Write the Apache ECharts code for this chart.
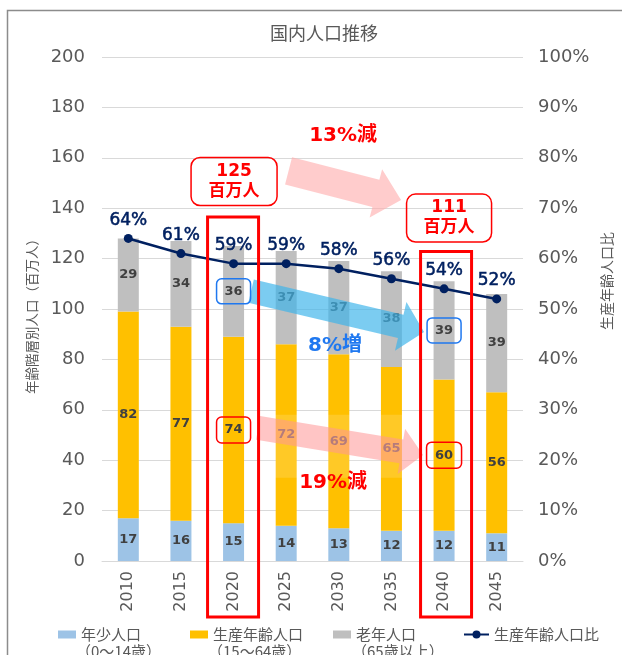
<!DOCTYPE html>
<html>
<head>
<meta charset="utf-8">
<script src="https://cdn.jsdelivr.net/npm/echarts@6/dist/echarts.min.js"></script>
<style>
  html, body { margin: 0; padding: 0; background: #fff; }
  #chart { width: 622px; height: 655px; }
</style>
</head>
<body>
<div id="chart"></div>
<script>
// 国内人口推移: age-group population (millions) and working-age share
const years = ['2010', '2015', '2020', '2025', '2030', '2035', '2040', '2045'];
const youthPop = [17, 16, 15, 14, 13, 12, 12, 11];        // 0-14
const workingPop = [82, 77, 74, 72, 69, 65, 60, 56];      // 15-64
const elderlyPop = [29, 34, 36, 37, 37, 38, 39, 39];      // 65+
const workingRatio = [64, 61, 59, 59, 58, 56, 54, 52];    // %
const seriesNames = ['年少人口', '生産年齢人口', '老年人口', '生産年齢人口比'];
const legendSubLabels = ['（0～14歳）', '（15～64歳）', '（65歳以上）'];
const totalLabels = ['125\n百万人', '111\n百万人'];
const changeLabels = ['13%減', '8%増', '19%減'];

const NUM = "'DejaVu Sans', 'Noto Sans CJK JP', sans-serif";
const JP = "'Noto Sans CJK JP', sans-serif";
const GREY = '#595959';
const RED = '#ff0000';
const BLUE = '#1f78f0';

const chart = echarts.init(document.getElementById('chart'), null, { renderer: 'canvas' });

const segLabel = {
  show: true, position: 'inside', color: '#404040',
  fontFamily: NUM, fontWeight: 'bold', fontSize: 13
};

const legendBase = {
  top: 622, itemHeight: 8, itemWidth: 18, icon: 'rect',
  textStyle: { fontFamily: JP, fontSize: 15, color: GREY }
};

chart.setOption({
  animation: false,
  backgroundColor: '#fff',
  title: {
    text: '国内人口推移', left: 265, top: 19,
    textStyle: { fontFamily: JP, fontSize: 18, fontWeight: 'normal', color: GREY }
  },
  grid: { left: 102, right: 99, top: 57, bottom: 94 },
  legend: [
    Object.assign({}, legendBase, { left: 53, data: [seriesNames[0]] }),
    Object.assign({}, legendBase, { left: 185, data: [seriesNames[1]] }),
    Object.assign({}, legendBase, { left: 328, data: [seriesNames[2]] }),
    Object.assign({}, legendBase, { left: 458, icon: null, itemWidth: 25, itemHeight: 10, data: [seriesNames[3]] })
  ],
  xAxis: {
    type: 'category', data: years,
    axisLine: { lineStyle: { color: '#d9d9d9' } },
    axisTick: { show: false },
    axisLabel: { rotate: 90, margin: 10, color: GREY, fontFamily: NUM, fontSize: 16 }
  },
  yAxis: [
    {
      type: 'value', min: 0, max: 200, interval: 20,
      axisLine: { show: false }, axisTick: { show: false },
      axisLabel: { margin: 17, color: GREY, fontFamily: NUM, fontSize: 18 },
      splitLine: { lineStyle: { color: '#d9d9d9' } }
    },
    {
      type: 'value', min: 0, max: 100, interval: 10,
      axisLine: { show: false }, axisTick: { show: false },
      axisLabel: { margin: 15, color: GREY, fontFamily: NUM, fontSize: 18, formatter: '{value}%' },
      splitLine: { show: false }
    }
  ],
  series: [
    { name: seriesNames[0], type: 'bar', stack: 'pop', barWidth: 21, data: youthPop,
      itemStyle: { color: '#9dc3e6' }, label: segLabel },
    { name: seriesNames[1], type: 'bar', stack: 'pop', barWidth: 21, data: workingPop,
      itemStyle: { color: '#ffc000' }, label: segLabel },
    { name: seriesNames[2], type: 'bar', stack: 'pop', barWidth: 21, data: elderlyPop,
      itemStyle: { color: '#bfbfbf' }, label: segLabel },
    { name: seriesNames[3], type: 'line', yAxisIndex: 1, data: workingRatio, z: 5,
      symbol: 'circle', symbolSize: 9,
      lineStyle: { color: '#002060', width: 2.5 },
      itemStyle: { color: '#002060' },
      label: { show: true, position: 'top', distance: 5, formatter: '{c}%',
               color: '#002060', fontFamily: NUM, fontSize: 17,
               textBorderColor: '#002060', textBorderWidth: 0.5 } }
  ]
});

// Annotation overlay, anchored to the axes
const px = (cat, v) => chart.convertToPixel({ seriesIndex: 0 }, [cat, v]);
const X = c => px(c, 0)[0];
const Y = v => px(years[0], v)[1];
const x20 = X('2020'), x40 = X('2040'), y0 = Y(0);

function arrowPoints(x1, y1, x2, y2, sw, hw, hl) {
  const dx = x2 - x1, dy = y2 - y1, L = Math.hypot(dx, dy);
  const ux = dx / L, uy = dy / L, nx = -uy, ny = ux;
  const bx = x2 - ux * hl, by = y2 - uy * hl;
  return [
    [x1 + nx * sw / 2, y1 + ny * sw / 2],
    [bx + nx * sw / 2, by + ny * sw / 2],
    [bx + nx * hw / 2, by + ny * hw / 2],
    [x2, y2],
    [bx - nx * hw / 2, by - ny * hw / 2],
    [bx - nx * sw / 2, by - ny * sw / 2],
    [x1 - nx * sw / 2, y1 - ny * sw / 2]
  ];
}
function frame(cx, cy, w, h, color, r, lw) {
  return { type: 'rect', z: 120, silent: true,
    shape: { x: cx - w / 2, y: cy - h / 2, width: w, height: h, r: r },
    style: { fill: null, stroke: color, lineWidth: lw } };
}
function label(txt, cx, cy, color, size, fam) {
  return { type: 'text', z: 130, silent: true, x: cx, y: cy,
    style: { text: txt, fill: color, font: 'bold ' + size + 'px ' + fam,
             textAlign: 'center', textVerticalAlign: 'middle', lineHeight: size + 3 } };
}
function segCenter(below, val) { return Y(below + val / 2); }

const i20 = years.indexOf('2020'), i40 = years.indexOf('2040');

const graphics = [
  // outer frame
  { type: 'polyline', z: 200, silent: true,
    shape: { points: [[7.5, 655], [7.5, 10.5], [622, 10.5]] },
    style: { stroke: '#8c8c8c', lineWidth: 1.5, fill: null } },
  // axis names
  { type: 'text', z: 50, silent: true, x: 32, y: 313, rotation: Math.PI / 2,
    style: { text: '年齢階層別人口（百万人）', fill: GREY, font: '13.5px ' + JP,
             textAlign: 'center', textVerticalAlign: 'middle' } },
  { type: 'text', z: 50, silent: true, x: 607, y: 281, rotation: Math.PI / 2,
    style: { text: '生産年齢人口比', fill: GREY, font: '14px ' + JP,
             textAlign: 'center', textVerticalAlign: 'middle' } },
  // haze behind lower arrow
  { type: 'rect', z: 100, silent: true,
    shape: { x: x20 + 24.5, y: Y(58), width: (x40 - 21) - (x20 + 24.5), height: Y(33) - Y(58) },
    style: { fill: 'rgba(255,255,255,0.15)' } },
  // arrows
  { type: 'polygon', z: 101, silent: true,
    shape: { points: arrowPoints(x20 + 55, Y(154.8), x40 - 43, Y(143.3), 28, 50, 26) },
    style: { fill: 'rgba(255,170,170,0.6)' } },
  { type: 'polygon', z: 101, silent: true,
    shape: { points: arrowPoints(x20 + 17.5, Y(107.1), x40 - 20, Y(90.9), 24, 50, 24) },
    style: { fill: 'rgba(60,180,235,0.68)' } },
  { type: 'polygon', z: 101, silent: true,
    shape: { points: arrowPoints(x20 + 24.5, Y(52.8), x40 - 21, Y(42.1), 24, 46, 22) },
    style: { fill: 'rgba(255,150,150,0.55)' } },
  // highlighted columns
  { type: 'rect', z: 110, silent: true,
    shape: { x: x20 - 26, y: Y(136.5), width: 51, height: y0 + 56 - Y(136.5) },
    style: { fill: null, stroke: RED, lineWidth: 3 } },
  { type: 'rect', z: 110, silent: true,
    shape: { x: x40 - 23.5, y: Y(122.8), width: 51, height: y0 + 56 - Y(122.8) },
    style: { fill: null, stroke: RED, lineWidth: 3 } },
  // totals callouts
  frame(x20 + 0.5, Y(150.6), 86, 48, RED, 9, 1.5),
  label(totalLabels[0], x20 + 0.5, Y(150.6), RED, 17, NUM),
  frame(x40 + 5, Y(136.1), 85, 48, RED, 9, 1.5),
  label(totalLabels[1], x40 + 5, Y(136.1), RED, 17, NUM),
  // change labels
  label(changeLabels[0], x20 + 109.5, Y(168.7), RED, 20, NUM),
  label(changeLabels[1], x20 + 101.5, Y(85.3), BLUE, 20, NUM),
  label(changeLabels[2], x20 + 99.5, Y(31), RED, 20, NUM),
  // value frames for 2020 / 2040
  frame(x20, segCenter(youthPop[i20] + workingPop[i20], elderlyPop[i20]), 34, 25, BLUE, 5, 1.5),
  frame(x20, segCenter(youthPop[i20], workingPop[i20]), 34, 26, RED, 5, 1.5),
  frame(x40, segCenter(youthPop[i40] + workingPop[i40], elderlyPop[i40]), 34, 25, BLUE, 5, 1.5),
  frame(x40, segCenter(youthPop[i40], workingPop[i40]), 35, 26, RED, 5, 1.5),
  // legend second lines
  { type: 'text', z: 50, silent: true, x: 76, y: 651,
    style: { text: legendSubLabels[0], fill: GREY, font: '15px ' + JP, textVerticalAlign: 'middle' } },
  { type: 'text', z: 50, silent: true, x: 208, y: 651,
    style: { text: legendSubLabels[1], fill: GREY, font: '15px ' + JP, textVerticalAlign: 'middle' } },
  { type: 'text', z: 50, silent: true, x: 352, y: 651,
    style: { text: legendSubLabels[2], fill: GREY, font: '15px ' + JP, textVerticalAlign: 'middle' } }
];

chart.setOption({ graphic: graphics });
</script>
</body>
</html>
